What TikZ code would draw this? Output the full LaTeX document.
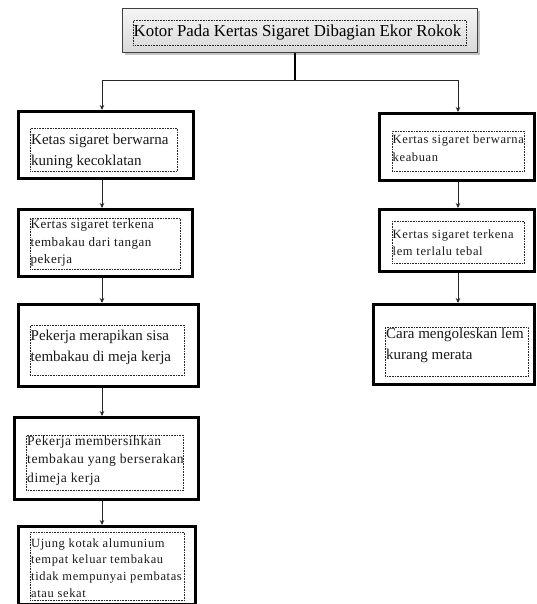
\documentclass[tikz,border=0pt]{standalone}
\usepackage{fontspec}
\setmainfont{Liberation Serif}
\newfontfamily\lsA[LetterSpace=4]{Liberation Serif}
\newfontfamily\lsC[LetterSpace=5]{Liberation Serif}
\usetikzlibrary{arrows.meta,shadows}
\begin{document}
\begin{tikzpicture}[x=1pt,y=-1pt,
  outerbox/.style={draw=black,line width=3pt,fill=white,anchor=north west,inner sep=0pt},
  dotbox/.style={draw=black!85,line width=0.7pt,dash pattern=on 0.7pt off 0.9pt,anchor=north west,inner sep=0pt},
  txt/.style={anchor=north west,inner sep=0pt,align=left,text=black!90},
  bigtxt/.style={txt,font=\fontsize{15}{20.5}\selectfont},
  titlebox/.style={draw=black!75,line width=1.4pt,top color=gray!8,bottom color=gray!30,
    anchor=north west,inner sep=0pt,drop shadow={shadow xshift=2pt,shadow yshift=-2pt,fill=black!45}},
  arr/.style={draw=black!85,line width=1pt,-{Stealth[length=5pt,width=4.5pt]}},
  stem/.style={draw=black,line width=2pt}]
\useasboundingbox (0,0) rectangle (536,604);

% title
\node[titlebox,minimum width=355,minimum height=44] (title) at (122,8) {};
\node[dotbox,minimum width=333,minimum height=25] (tdot) at (133,20) {};
\node[inner sep=0pt,font=\fontsize{16.8}{20}\selectfont] (ttxt) at (297.5,32) {Kotor Pada Kertas Sigaret Dibagian Ekor Rokok};

% left column
\node[outerbox,minimum width=175,minimum height=67] (b1) at (17,110) {};
\node[dotbox,minimum width=147,minimum height=43] (d1) at (30,128) {};
\node[bigtxt,font=\fontsize{15}{21}\selectfont] (t1) at (31,134.3) {Ketas sigaret berwarna\\kuning kecoklatan};

\node[outerbox,minimum width=174,minimum height=67] (b2) at (17,208) {};
\node[dotbox,minimum width=150,minimum height=51] (d2) at (30,218) {};
\node[txt,font=\lsA\fontsize{13}{17.5}\selectfont] (t2) at (30.5,219.5) {Kertas sigaret terkena\\tembakau dari tangan\\pekerja};

\node[outerbox,minimum width=180,minimum height=82] (b3) at (17,303) {};
\node[dotbox,minimum width=154,minimum height=50] (d3) at (30,325) {};
\node[bigtxt] (t3) at (30.5,330.3) {Pekerja merapikan sisa\\tembakau di meja kerja};

\node[outerbox,minimum width=184,minimum height=82] (b4) at (13,416) {};
\node[dotbox,minimum width=157,minimum height=55] (d4) at (26,435) {};
\node[txt,font=\lsA\fontsize{13.6}{18.5}\selectfont] (t4) at (27,435.7) {Pekerja membersihkan\\tembakau yang berserakan\\dimeja kerja};

\node[outerbox,minimum width=177,minimum height=78] (b5) at (17,525) {};
\node[dotbox,minimum width=154,minimum height=68] (d5) at (30,532) {};
\node[txt,font=\lsC\fontsize{12.5}{16.7}\selectfont] (t5) at (31,538.2) {Ujung kotak alumunium\\tempat keluar tembakau\\tidak mempunyai pembatas\\atau sekat};

% right column
\node[outerbox,minimum width=155,minimum height=67] (r1) at (378,112) {};
\node[dotbox,minimum width=132,minimum height=40] (e1) at (392,131) {};
\node[txt,font=\lsC\fontsize{12.5}{18}\selectfont] (u1) at (392.5,134.4) {Kertas sigaret berwarna\\keabuan};

\node[outerbox,minimum width=155,minimum height=62] (r2) at (378,208) {};
\node[dotbox,minimum width=132,minimum height=42] (e2) at (392,221) {};
\node[txt,font=\lsC\fontsize{12.5}{17}\selectfont] (u2) at (392.5,229.4) {Kertas sigaret terkena\\lem terlalu tebal};

\node[outerbox,minimum width=161,minimum height=80] (r3) at (372,303) {};
\node[dotbox,minimum width=143,minimum height=49] (e3) at (385,327) {};
\node[bigtxt] (u3) at (386,328.3) {Cara mengoleskan lem\\kurang merata};

% connectors
\coordinate (j) at (295,81);
\coordinate (lx) at (102,0);
\coordinate (rx) at (458,0);
\draw[stem] (title.south -| j) -- (j);
\draw[arr] (j) -| (b1.north -| lx);
\draw[arr] (j) -| (r1.north -| rx);
\draw[arr] (b1.south -| lx) -- (b2.north -| lx);
\draw[arr] (b2.south -| lx) -- (b3.north -| lx);
\draw[arr] (b3.south -| lx) -- (b4.north -| lx);
\draw[arr] (b4.south -| lx) -- (b5.north -| lx);
\draw[arr] (r1.south -| rx) -- (r2.north -| rx);
\draw[arr] (r2.south -| rx) -- (r3.north -| rx);
\end{tikzpicture}
\end{document}
